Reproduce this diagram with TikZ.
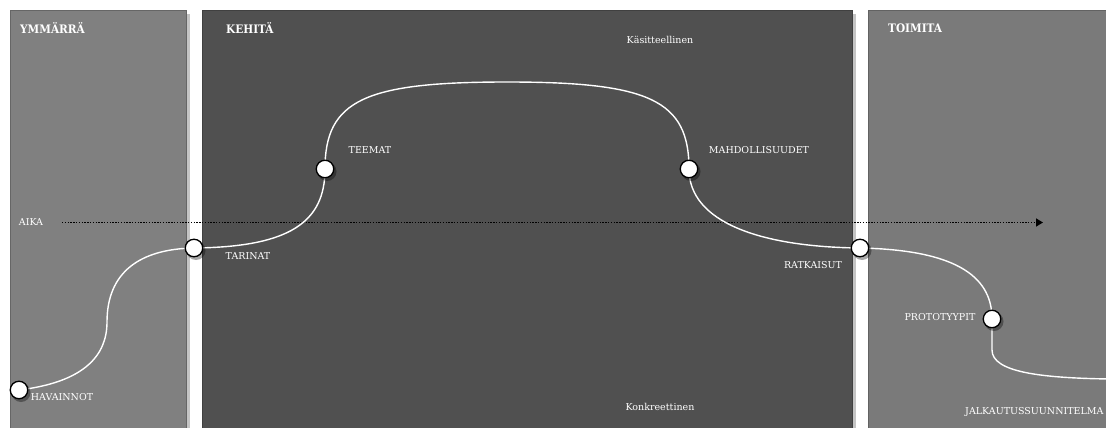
\documentclass[tikz,border=0pt]{standalone}
\usepackage{fontspec}
\setmainfont{DejaVu Serif}
\newfontfamily\headfont{DejaVu Serif Condensed}[BoldFont={DejaVu Serif Condensed Bold}]
\usetikzlibrary{arrows.meta,calc}
\definecolor{lightpanel}{HTML}{808080}
\definecolor{darkpanel}{HTML}{505050}
\definecolor{rightpanel}{HTML}{7A7A7A}
\definecolor{panelshadow}{HTML}{C4C4C4}
\begin{document}
\begin{tikzpicture}[x=1pt,y=-1pt,
  panel/.style={draw=#1!80!black, line width=0.8pt},
  phase/.style={text=white, font=\headfont\bfseries\fontsize{11.7}{13}\selectfont, anchor=west, inner sep=0pt},
  lbl/.style={text=white, font=\fontsize{9.5}{11}\selectfont, inner sep=0pt},
  milestone/.style={circle, draw=black, fill=white, line width=1.3pt, minimum size=17.5pt, inner sep=0pt},
  path line/.style={white, line width=1.4pt},
  timeline/.style={black, line width=1.4pt, dash pattern=on 1.4pt off 1.4pt, -{Triangle[length=7pt,width=8pt]}},
]
\useasboundingbox (0,0) rectangle (1106,428);
\clip (0,0) rectangle (1106,428);
\fill[white] (0,0) rectangle (1106,428);

% phase panels with a light drop shadow on the right
\fill[panelshadow] (186,14) rectangle (190,430);
\fill[panelshadow] (852,14) rectangle (856,430);
\filldraw[panel=lightpanel, fill=lightpanel] (10,10) rectangle (186,432);
\filldraw[panel=darkpanel, fill=darkpanel] (202,10) rectangle (852,432);
\filldraw[panel=rightpanel, fill=rightpanel] (868,10) rectangle (1110,432);

\node[phase] (ymm) at (20,28) {YMMÄRRÄ};
\node[phase] (keh) at (226,28) {KEHITÄ};
\node[phase] (toi) at (888,28) {TOIMITA};

\node[lbl] (kas) at (660,40) {Käsitteellinen};
\node[lbl] (kon) at (660,407) {Konkreettinen};

% time axis
\node[lbl] (aika) at (31,222.5) {AIKA};
\coordinate (tstart) at (62,222.5);
\coordinate (tend) at (1043,222.5);
\draw[timeline] (tstart) -- (tend);

% milestones along the path
\coordinate (hav) at (19,390);
\coordinate (tar) at (194,248);
\coordinate (tee) at (325,169);
\coordinate (mah) at (689,169);
\coordinate (rat) at (860,248);
\coordinate (pro) at (992,319);
\coordinate (jal) at (1110,379);

\draw[path line] (hav) .. controls (85,382) and (107,355) .. (107,322)
  .. controls (107,272) and (140,249) .. (tar)
  .. controls (290,247) and (325,222) .. (tee)
  .. controls (325,100) and (365,82) .. (507,82)
  .. controls (649,82) and (689,100) .. (mah)
  .. controls (689,222) and (760,247) .. (rat)
  .. controls (962,250) and (992,280) .. (pro)
  -- (992,350) .. controls (992,372) and (1040,378) .. (jal);

\foreach \p in {hav,tar,tee,mah,rat,pro}{
  \fill[black, opacity=0.35] ($(\p)+(2,2.5)$) circle (9.5pt);
}
\node[milestone] (nhav) at (hav) {};
\node[milestone] (ntar) at (tar) {};
\node[milestone] (ntee) at (tee) {};
\node[milestone] (nmah) at (mah) {};
\node[milestone] (nrat) at (rat) {};
\node[milestone] (npro) at (pro) {};

\node[lbl] (lhav) at (62,397) {HAVAINNOT};
\node[lbl] (ltar) at (248,256) {TARINAT};
\node[lbl] (ltee) at (370,150) {TEEMAT};
\node[lbl] (lmah) at (759,150) {MAHDOLLISUUDET};
\node[lbl] (lrat) at (813,265) {RATKAISUT};
\node[lbl] (lpro) at (940,317) {PROTOTYYPIT};
\node[lbl, anchor=west] (ljal) at (965,412) {JALKAUTUSSUUNNITELMA};
\end{tikzpicture}
\end{document}
